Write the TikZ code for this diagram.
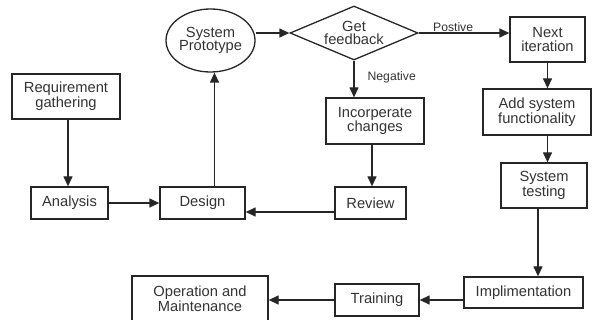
\documentclass[tikz,border=0pt]{standalone}
\usepackage{fontspec}
\setmainfont{Liberation Sans}
\usetikzlibrary{shapes.geometric,arrows.meta}

\begin{document}
\begin{tikzpicture}[x=1pt,y=-1pt,%%
  boxStyle/.style={draw=black!85,line width=1.3pt,rectangle,inner sep=0pt,%%
    align=center,text=black!80,font=\fontsize{14.7}{13.5}\selectfont},%%
  arrowStyle/.style={-{Triangle[length=10pt,width=9pt]},line width=1.3pt,draw=black!85},%%
  labelStyle/.style={text=black!80,inner sep=1pt,font=\fontsize{12.2}{13}\selectfont}%%
]
%%
\useasboundingbox (0,0) rectangle (592,320);
%%
%% The boxes of the left part.
\node[boxStyle,minimum width=108pt,minimum height=45pt] (req) at (66,96.5) {Requirement\\gathering};
\node[boxStyle,minimum width=77pt,minimum height=32pt] (ana) at (69.5,203) {Analysis};
\node[boxStyle,minimum width=85pt,minimum height=32pt] (des) at (202.5,203) {Design};
\node[boxStyle,ellipse,minimum width=85pt,minimum height=63pt] (proto) at (210.5,40.5) {System\\Prototype};
%% The feedback loop.
\node[boxStyle,diamond,shape aspect=2.37,minimum width=128pt,minimum height=54pt] (fb) at (354,33) {Get\\feedback};
\node[boxStyle,minimum width=98pt,minimum height=46pt] (inc) at (375,121) {Incorperate\\changes};
\node[boxStyle,minimum width=71pt,minimum height=32pt] (rev) at (370.5,203) {Review};
%% The boxes of the right part.
\node[boxStyle,minimum width=75pt,minimum height=45pt] (next) at (547.5,39.5) {Next\\iteration};
\node[boxStyle,minimum width=108pt,minimum height=46pt] (add) at (537,112) {Add system\\functionality};
\node[boxStyle,minimum width=86pt,minimum height=45pt] (test) at (544,185.5) {System\\testing};
\node[boxStyle,minimum width=119pt,minimum height=31pt] (impl) at (523.5,292.5) {Implimentation};
\node[boxStyle,minimum width=84pt,minimum height=32pt] (train) at (377,300) {Training};
\node[boxStyle,minimum width=136pt,minimum height=45pt] (op) at (200,298.5) {Operation and\\Maintenance};
%%
%% Arrows of the left part.
\draw[arrowStyle] ([xshift=2pt]req.south) -- ([xshift=2pt]req.south |- ana.north);
\draw[arrowStyle] (ana) -- (des);
\draw[arrowStyle] ([xshift=12pt]des.north) -- ([xshift=12pt]des.north |- proto.south);
\draw[arrowStyle] (fb.west -| proto.east) -- (fb.west);
%% Arrows of the feedback loop.
\draw[arrowStyle] (fb.east) -- (fb.east -| next.west)
  node[labelStyle,above,pos=.38] {Postive};
\draw[arrowStyle] (fb.south) -- (fb.south |- inc.north)
  node[labelStyle,right=12pt,pos=.45] {Negative};
\draw[arrowStyle] ([xshift=-3pt]inc.south) -- ([xshift=-3pt]inc.south |- rev.north);
\draw[arrowStyle] ([yshift=-9pt]rev.west) -- ([yshift=-9pt]rev.west -| des.east);
%% Arrows of the right part.
\draw[arrowStyle] (next.south) -- (next.south |- add.north);
\draw[arrowStyle] (add.south -| next.south) -- (next.south |- test.north);
\draw[arrowStyle] ([xshift=-6pt]test.south) -- ([xshift=-6pt]test.south |- impl.north);
\draw[arrowStyle] (train.east -| impl.west) -- (train.east);
\draw[arrowStyle] (train.west) -- (train.west -| op.east);
\end{tikzpicture}
\end{document}
